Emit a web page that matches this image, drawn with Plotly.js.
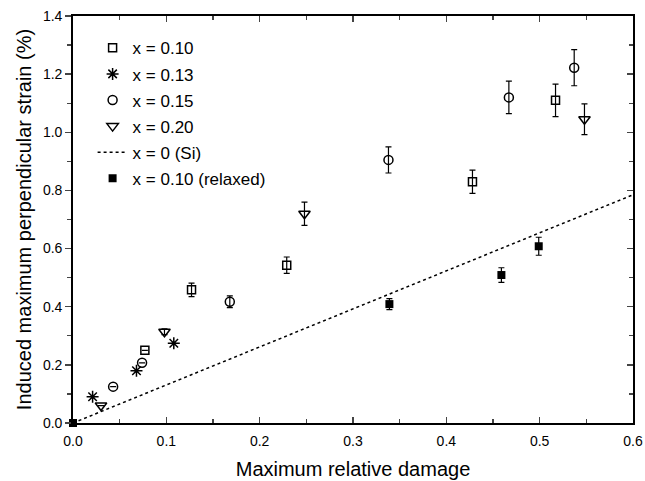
<!DOCTYPE html>
<html>
<head>
<meta charset="utf-8">
<script src="https://cdn.plot.ly/plotly-3.0.1.min.js"></script>
<style>html,body{margin:0;padding:0;background:#fff}#chart{width:645px;height:481px}</style>
</head>
<body>
<div id="chart"></div>
<script>
// x = 0.10 (open squares)
var sqX = [0.077, 0.127, 0.229, 0.428, 0.517];
var sqY = [0.25, 0.458, 0.543, 0.83, 1.11];
var sqErr = [0.0, 0.023, 0.028, 0.04, 0.056];
// x = 0.13 (asterisks)
var stX = [0.021, 0.068, 0.108];
var stY = [0.09, 0.18, 0.274];
// x = 0.15 (open circles)
var ciX = [0.043, 0.074, 0.168, 0.338, 0.467, 0.537];
var ciY = [0.125, 0.207, 0.417, 0.905, 1.12, 1.222];
var ciErr = [0.0, 0.0, 0.02, 0.045, 0.056, 0.062];
// x = 0.20 (open down triangles)
var trX = [0.03, 0.098, 0.248, 0.548];
var trY = [0.06, 0.314, 0.72, 1.045];
var trErr = [0.0, 0.01, 0.04, 0.053];
// x = 0 (Si) dotted line
var siX = [0, 0.6];
var siY = [0, 0.785];
// x = 0.10 relaxed (filled squares)
var rlX = [0.0, 0.339, 0.459, 0.499];
var rlY = [0.0, 0.409, 0.509, 0.608];
var rlErr = [0.0, 0.019, 0.025, 0.031];

var F = '"Liberation Sans", Arial, Helvetica, sans-serif';
function eb(a){return {type:'data', array:a, visible:true, color:'#000', thickness:1.2, width:3};}

var traces = [
  {x:sqX, y:sqY, error_y:eb(sqErr), mode:'markers', type:'scatter', name:'x = 0.10', legendgroup:'a',
   marker:{symbol:'square-open', size:8, color:'#000', line:{width:1.5}}},
  {x:stX, y:stY, mode:'markers', type:'scatter', name:'x = 0.13', legendgroup:'b',
   marker:{symbol:'asterisk-open', size:10, color:'#000', line:{width:1.5, color:'#000'}}},
  {x:ciX, y:ciY, error_y:eb(ciErr), mode:'markers', type:'scatter', name:'x = 0.15', legendgroup:'c',
   marker:{symbol:'circle-open', size:9, color:'#000', line:{width:1.5}}},
  {x:trX, y:trY, error_y:eb(trErr), mode:'markers', type:'scatter', name:'x = 0.20', legendgroup:'d',
   marker:{symbol:'triangle-down-open', size:10, color:'#000', line:{width:1.5}}},
  {x:siX, y:siY, mode:'lines', type:'scatter', name:'x = 0 (Si)', legendgroup:'e',
   line:{color:'#000', width:1.5, dash:'dot'}},
  {x:rlX, y:rlY, error_y:eb(rlErr), mode:'markers', type:'scatter', name:'x = 0.10 (relaxed)', legendgroup:'f',
   cliponaxis:false, marker:{symbol:'square', size:8, color:'#000'}},
  {x:siX, y:siY, yaxis:'y2', mode:'lines', type:'scatter', showlegend:false, hoverinfo:'skip',
   line:{width:0, color:'rgba(0,0,0,0)'}}
];

var layout = {
  width:645, height:481,
  margin:{l:73, r:12, t:16, b:58},
  paper_bgcolor:'#fff', plot_bgcolor:'#fff',
  font:{family:F, color:'#000', size:14},
  showlegend:true,
  legend:{x:0.035, y:0.965, xanchor:'left', yanchor:'top', bgcolor:'rgba(0,0,0,0)',
          font:{family:F, size:17, color:'#000'}, traceorder:'grouped', tracegroupgap:1, itemwidth:30},
  xaxis:{range:[0,0.6], dtick:0.1, tick0:0, tickformat:'.1f', ticks:'inside', ticklen:6, tickwidth:1.5,
         showline:true, linewidth:1.8, linecolor:'#000', mirror:'ticks', showgrid:false, zeroline:false,
         ticklabelstandoff:4,
         minor:{dtick:0.05, ticks:'inside', ticklen:4, tickwidth:1.2, showgrid:false},
         tickfont:{size:14}, title:{text:'Maximum relative damage', font:{size:20}, standoff:14}},
  yaxis:{range:[0,1.4], dtick:0.2, tick0:0, tickformat:'.1f', ticks:'outside', ticklen:6, tickwidth:1.5,
         showline:true, linewidth:1.8, linecolor:'#000', mirror:true, showgrid:false, zeroline:false,
         minor:{dtick:0.1, ticks:'outside', ticklen:4, tickwidth:1.2, showgrid:false},
         tickfont:{size:14}, title:{text:'Induced maximum perpendicular strain (%)', font:{size:20}, standoff:6}},
  yaxis2:{overlaying:'y', side:'right', range:[0,1.4], dtick:0.2, tick0:0, ticks:'inside', ticklen:6, tickwidth:1.5,
          showticklabels:false, showline:false, showgrid:false, zeroline:false,
          minor:{dtick:0.1, ticks:'inside', ticklen:4, tickwidth:1.2, showgrid:false}}
};

Plotly.newPlot('chart', traces, layout, {staticPlot:true, displayModeBar:false});
</script>
</body>
</html>
